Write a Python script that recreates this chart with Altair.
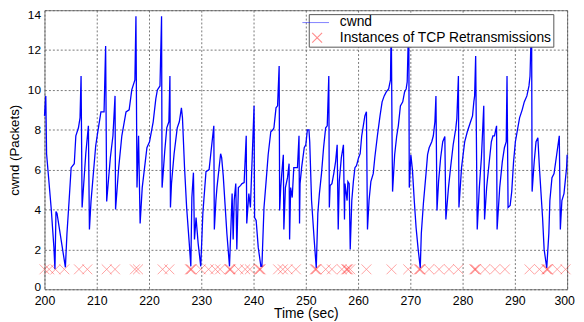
import altair as alt
import pandas as pd

# ---- data ----
cwnd_time = [
    200.0, 200.25, 200.4, 201.3, 201.8, 202.0, 202.2, 202.4, 204.0, 204.3,
    204.7, 205.1, 205.7, 206.0, 206.5, 206.8, 207.0, 207.2, 207.9, 208.4,
    208.6, 208.9, 209.8, 210.2, 210.8, 211.4, 211.7, 211.9, 212.6, 213.1,
    213.5, 213.6, 214.2, 214.8, 215.6, 216.2, 216.7, 217.3, 217.5, 217.7,
    218.0, 218.3, 218.7, 219.6, 220.1, 220.8, 221.3, 221.6, 222.1, 222.4,
    222.5, 222.7, 223.0, 223.4, 223.8, 224.0, 224.1, 224.3, 224.8, 225.4,
    225.8, 226.2, 226.4, 226.8, 227.2, 227.7, 228.0, 228.2, 228.5, 228.7,
    229.0, 229.4, 229.9, 230.3, 230.9, 231.5, 231.8, 232.4, 232.5, 232.8,
    233.0, 233.7, 233.9, 234.2, 234.9, 235.4, 235.9, 236.1, 236.3, 236.6,
    236.8, 237.1, 237.5, 237.8, 238.2, 238.6, 238.7, 239.1, 239.4, 239.7,
    240.1, 240.2, 240.5, 240.9, 241.4, 241.6, 242.0, 242.4, 242.8, 243.3,
    243.7, 243.9, 244.3, 244.6, 244.9, 245.0, 245.2, 245.4, 245.7, 245.8,
    246.1, 246.5, 246.8, 246.9, 247.1, 247.4, 247.7, 248.4, 248.7, 248.8,
    248.9, 249.2, 249.7, 250.0, 250.3, 250.6, 250.75, 251.1, 251.6, 252.0,
    252.3, 252.6, 253.0, 253.4, 253.8, 254.1, 254.4, 254.5, 254.65, 255.0,
    255.35, 255.7, 256.0, 256.2, 256.4, 256.8, 257.2, 257.4, 257.5, 257.9,
    258.05, 258.3, 258.5, 258.8, 259.1, 259.4, 259.7, 260.1, 260.4, 260.7,
    261.0, 261.3, 261.6, 261.8, 262.1, 262.45, 262.9, 263.2, 263.7, 264.2,
    264.6, 265.0, 265.4, 265.85, 266.2, 266.35, 266.5, 266.6, 267.0, 267.4,
    267.7, 268.1, 268.55, 268.9, 269.2, 269.4, 269.7, 269.8, 270.1, 270.4,
    270.75, 271.1, 271.5, 271.9, 272.1, 272.5, 273.0, 273.3, 273.6, 274.1,
    274.4, 274.7, 274.9, 275.1, 275.4, 275.8, 276.2, 276.6, 276.8, 277.3,
    277.7, 278.2, 278.7, 278.9, 279.2, 279.3, 279.8, 280.4, 280.9, 281.4,
    281.9, 282.15, 282.3, 282.5, 282.8, 283.2, 283.6, 284.05, 284.2, 284.6,
    285.1, 285.5, 285.8, 286.1, 286.5, 286.6, 287.1, 287.6, 288.0, 288.35,
    288.5, 288.7, 289.1, 289.4, 289.75, 290.1, 290.9, 291.4, 291.8, 292.3,
    292.7, 292.9, 293.2, 293.3, 293.7, 294.05, 294.4, 294.7, 295.3, 295.6,
    296.1, 296.5, 296.7, 297.1, 297.5, 298.0, 298.5, 298.7, 299.0, 299.4,
    299.9, 300.0,
]
cwnd_value = [
    8.7, 9.7, 6.8, 4.0, 2.1, 1.0, 3.9, 3.8, 1.1, 2.8,
    4.4, 6.1, 6.3, 7.7, 8.1, 8.6, 10.7, 4.1, 6.8, 8.2,
    3.0, 4.4, 7.2, 7.9, 8.9, 8.9, 12.2, 4.4, 6.6, 7.7,
    9.7, 4.0, 6.1, 7.7, 8.9, 9.0, 10.0, 10.5, 13.7, 5.1,
    7.7, 3.3, 5.1, 7.1, 7.4, 8.4, 9.55, 10.0, 10.2, 13.7,
    5.1, 5.8, 6.9, 8.1, 8.4, 10.7, 4.1, 5.3, 6.8, 8.1,
    8.4, 9.1, 8.6, 6.1, 4.1, 2.3, 1.15, 4.6, 5.85, 2.5,
    3.6, 2.3, 1.15, 3.8, 5.9, 6.0, 6.75, 8.2, 3.0, 4.45,
    5.1, 6.8, 6.6, 5.7, 2.8, 1.15, 4.8, 2.5, 4.45, 5.3,
    2.0, 5.1, 5.2, 5.3, 5.35, 7.7, 3.3, 4.8, 4.1, 6.3,
    9.2, 3.6, 3.45, 2.1, 1.15, 1.15, 4.1, 5.4, 6.75, 7.9,
    8.0, 8.1, 9.1, 9.2, 11.2, 3.95, 5.1, 5.8, 6.75, 3.0,
    5.1, 5.6, 6.3, 2.5, 5.1, 4.6, 6.1, 6.1, 7.7, 3.3,
    5.3, 6.1, 7.1, 7.25, 8.0, 8.0, 7.4, 4.45, 2.5, 1.07,
    3.8, 4.8, 5.8, 7.1, 8.1, 8.2, 10.7, 4.1, 5.2, 5.3,
    5.8, 6.4, 7.25, 3.0, 5.4, 6.6, 7.25, 3.5, 5.3, 4.45,
    5.4, 5.3, 2.0, 4.45, 5.4, 6.1, 6.2, 6.6, 6.8, 7.7,
    8.2, 8.7, 8.9, 3.0, 4.45, 5.4, 5.8, 6.6, 7.7, 8.7,
    9.4, 9.7, 9.9, 10.05, 10.5, 13.6, 7.7, 4.9, 6.75, 7.7,
    8.2, 9.2, 9.4, 9.9, 10.05, 10.4, 13.6, 5.1, 6.75, 6.0,
    4.45, 3.1, 2.0, 1.07, 2.8, 4.3, 5.8, 6.75, 7.1, 7.4,
    7.7, 8.4, 9.7, 3.95, 5.4, 6.6, 7.4, 7.66, 3.5, 5.1,
    6.1, 7.25, 8.07, 8.57, 10.7, 4.1, 6.1, 7.4, 7.9, 8.3,
    8.7, 9.4, 9.7, 11.7, 3.0, 5.1, 6.6, 9.2, 3.5, 5.1,
    6.4, 7.4, 7.7, 7.7, 8.2, 3.0, 5.1, 6.4, 7.1, 7.4,
    10.7, 4.1, 4.2, 4.9, 6.4, 7.4, 8.6, 9.0, 9.4, 9.7,
    10.2, 10.7, 13.6, 4.9, 6.4, 7.4, 7.6, 6.1, 3.6, 2.0,
    1.07, 2.8, 4.45, 5.6, 5.8, 6.75, 7.7, 3.0, 4.45, 4.8,
    6.1, 6.75,
]
retx_time = [
    200.0, 200.9, 202.1, 203.8, 206.6, 208.2, 211.9, 213.5, 217.3, 217.9,
    222.6, 223.9, 227.85, 228.0, 228.15, 229.9, 231.4, 232.7, 233.6,
    235.35, 235.5, 235.65, 237.1, 238.4, 239.3, 241.05, 241.2, 241.35,
    244.7, 245.6, 246.5, 248.1, 251.75, 251.9, 252.05, 253.8, 255.0,
    256.9, 257.75, 257.9, 258.05, 258.5, 261.6, 266.4, 269.6,
    271.65, 271.8, 271.95, 273.6, 275.5, 277.4, 279.2, 282.25, 282.4,
    282.55, 284.3, 286.2, 288.1, 292.8, 294.7, 296.05, 296.2, 296.35,
    298.1, 299.7,
]
retx_level = 1
series_names = ["cwnd", "Instances of TCP Retransmissions"]
x_ticks = list(range(200, 301, 10))
y_ticks = list(range(0, 15, 2))

line_df = pd.DataFrame({"t": cwnd_time, "v": cwnd_value, "series": series_names[0]})
retx_df = pd.DataFrame({"t": retx_time, "series": series_names[1]})
retx_df["v"] = retx_level

# ---- styling ----
FONT = "Liberation Sans"
X_PATH = "M-4,0L-4,0M-1,-1L1,1M-1,1L1,-1"
LINE_PATH = "M-4,0L-4,0M-3,0L2.4,0"

legend = alt.Legend(
    title=None, orient="none", legendX=268, legendY=4, direction="vertical",
    padding=1.5, rowPadding=0.5, labelOffset=16, labelLimit=400,
    symbolSize=100, symbolStrokeWidth=1.1, labelFont=FONT, labelFontSize=14,
    labelColor="black", fillColor="white", strokeColor="#555555", zindex=1,
)

x_enc = alt.X(
    "t:Q",
    scale=alt.Scale(domain=[200, 300], nice=False, zero=False),
    axis=alt.Axis(
        values=x_ticks, title="Time (sec)", grid=True, gridColor="#555555",
        gridDash=[2, 2], gridWidth=0.8, ticks=False, domain=False,
        labelFlush=False, labelOverlap=False, labelFont=FONT, labelFontSize=12.5,
        labelColor="black", labelPadding=5,
        labelOffset={"condition": {"test": "datum.value == 300", "value": -3}, "value": 0},
        titleFont=FONT, titleFontSize=14,
        titleFontWeight="normal", titleColor="black", titleY=29,
        titleBaseline="alphabetic",
    ),
)
y_enc = alt.Y(
    "v:Q",
    scale=alt.Scale(domain=[0, 14], nice=False),
    axis=alt.Axis(
        values=y_ticks, title="cwnd (Packets)", grid=True, gridColor="#555555",
        gridDash=[2, 2], gridWidth=0.8, ticks=False, domain=False,
        labelFlush=False, labelFont=FONT, labelFontSize=12, labelColor="black",
        labelPadding=4,
        labelOffset={
            "condition": [
                {"test": "datum.value == 14", "value": 4},
                {"test": "datum.value == 0", "value": -3},
            ],
            "value": 0,
        },
        titleFont=FONT, titleFontSize=13.5, titleFontWeight="normal",
        titleColor="black", titleX=-26.5, titleBaseline="alphabetic",
    ),
)
color_enc = alt.Color(
    "series:N",
    scale=alt.Scale(domain=series_names, range=["#0000ff", "#ff0000"]),
    legend=legend,
)
shape_enc = alt.Shape(
    "series:N",
    scale=alt.Scale(domain=series_names, range=[LINE_PATH, X_PATH]),
    legend=legend,
)

line = alt.Chart(line_df).mark_line(strokeWidth=1.3).encode(
    x=x_enc, y=y_enc, color=color_enc
)
marks = alt.Chart(retx_df).mark_point(
    filled=False, size=100, strokeWidth=0.8, opacity=0.45
).encode(x=x_enc, y=y_enc, color=color_enc, shape=shape_enc)

chart = alt.layer(line, marks).properties(
    width=530, height=283,
    padding={"left": 37, "top": 0, "right": 9, "bottom": 33},
    autosize=alt.AutoSizeParams(type="none"),
    background="white",
).configure_view(stroke="#808080", strokeWidth=1)

chart.save("out.html", embed_options={"renderer": "svg", "actions": False})
